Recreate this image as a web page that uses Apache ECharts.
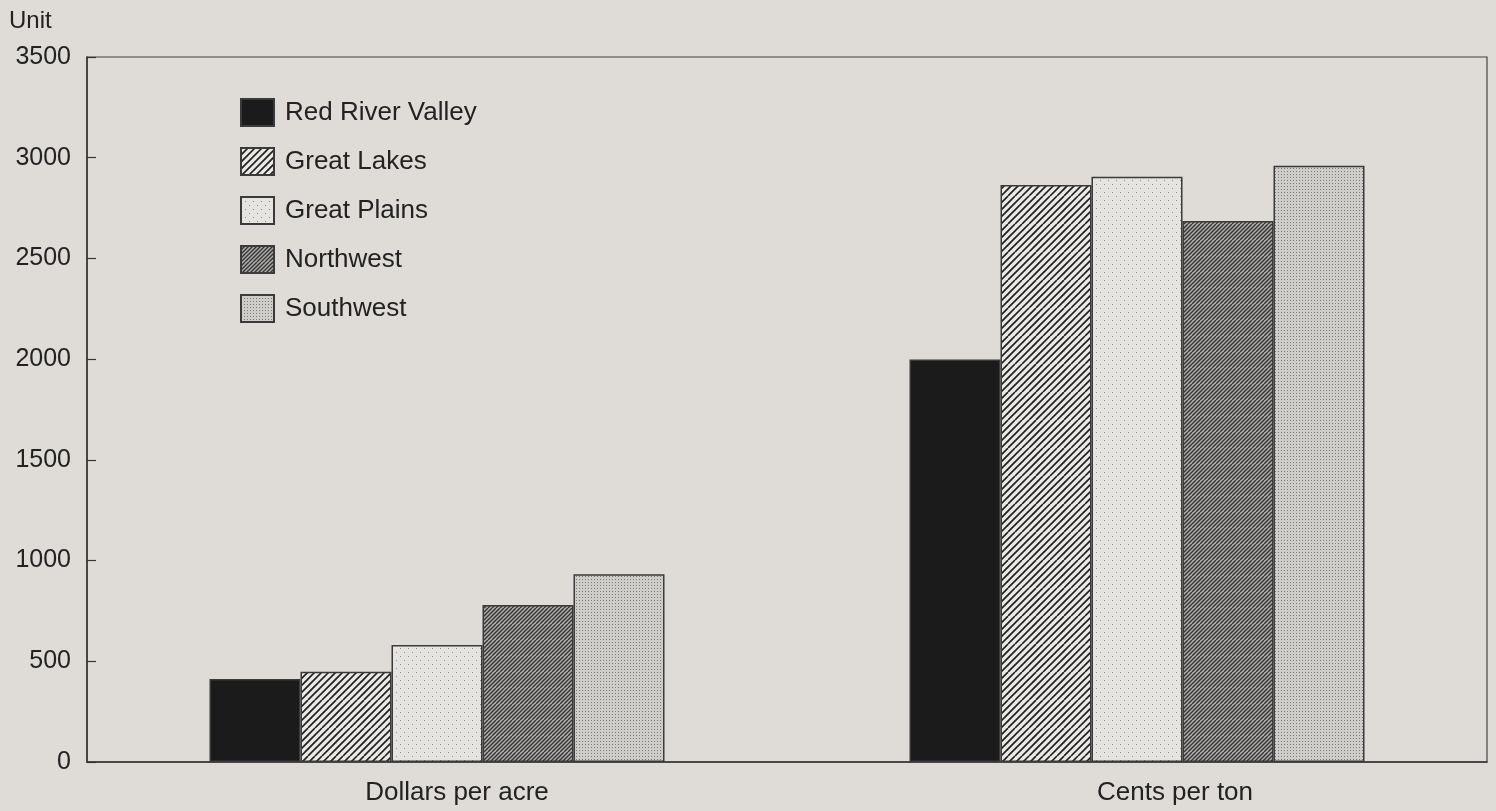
<!DOCTYPE html>
<html>
<head>
<meta charset="utf-8">
<script src="https://cdn.jsdelivr.net/npm/echarts@6/dist/echarts.min.js"></script>
<style>
html,body{margin:0;padding:0;background:#dfdbd7;}
#c{width:1496px;height:811px;}
</style>
</head>
<body>
<div id="c"></div>
<script>
var categories = ['Dollars per acre', 'Cents per ton'];
var seriesNames = ['Red River Valley', 'Great Lakes', 'Great Plains', 'Northwest', 'Southwest'];
var redRiverValley = [412, 1998];
var greatLakes = [448, 2865];
var greatPlains = [581, 2905];
var northwest = [780, 2686];
var southwest = [932, 2960];
var yTicks = [0, 500, 1000, 1500, 2000, 2500, 3000, 3500];

function hatch(bg, fg, spacing, lw) {
  var s = spacing * 4;
  var c = document.createElement('canvas');
  c.width = s; c.height = s;
  var g = c.getContext('2d');
  g.fillStyle = bg; g.fillRect(0, 0, s, s);
  g.strokeStyle = fg; g.lineWidth = lw;
  for (var k = -s; k <= 2 * s; k += spacing) {
    g.beginPath();
    g.moveTo(k, s);
    g.lineTo(k + s, 0);
    g.stroke();
  }
  return c;
}
function dots(bg, fg, step, size, offset) {
  var s = step * 2;
  var c = document.createElement('canvas');
  c.width = s; c.height = s;
  var g = c.getContext('2d');
  g.fillStyle = bg; g.fillRect(0, 0, s, s);
  g.fillStyle = fg;
  g.fillRect(0, 0, size, size);
  g.fillRect(step, step, size, size);
  if (offset) {
    g.fillRect(step, 0, size, size);
    g.fillRect(0, step, size, size);
  }
  return c;
}

var fills = [
  '#1c1b1b',
  {image: hatch('#ebe9e6', '#1e1e1e', 7, 1.6), repeat: 'repeat'},
  {image: dots('#e6e4e1', '#8e8c8a', 4, 1, false), repeat: 'repeat'},
  {image: hatch('#aeacaa', '#333333', 4, 1.3), repeat: 'repeat'},
  {image: dots('#cfcdca', '#7c7a78', 3, 1, true), repeat: 'repeat'}
];
var values = [redRiverValley, greatLakes, greatPlains, northwest, southwest];

var chart = echarts.init(document.getElementById('c'));
var font = 'Liberation Sans, Arial, Helvetica, sans-serif';
var series = seriesNames.map(function (n, i) {
  return {
    name: n,
    type: 'bar',
    data: values[i],
    barWidth: 91,
    barGap: '0%',
    itemStyle: {color: fills[i], borderColor: '#3a3a3a', borderWidth: 1.5},
    emphasis: {disabled: true}
  };
});

chart.setOption({
  backgroundColor: '#dfdbd7',
  animation: false,
  title: {text: 'Unit', left: 4, top: 4, textStyle: {fontFamily: font, fontSize: 24, fontWeight: 'normal', color: '#222'}},
  legend: {
    orient: 'vertical',
    left: 235, top: 93,
    itemWidth: 33, itemHeight: 27,
    itemGap: 20,
    icon: 'rect',
    textStyle: {fontFamily: font, fontSize: 26, color: '#222', padding: [0, 0, 0, 6]},
    data: seriesNames
  },
  grid: {left: 87, right: 9, top: 57, bottom: 49, show: true, borderColor: '#444', borderWidth: 1.2, backgroundColor: 'transparent'},
  xAxis: {
    type: 'category',
    data: categories,
    axisLine: {lineStyle: {color: '#333', width: 1.5}},
    axisTick: {show: false},
    axisLabel: {
      fontFamily: font, fontSize: 26, color: '#222', margin: 18,
      formatter: function (v, i) { return i === 0 ? '{a|' + v + '}' : '{b|' + v + '}'; },
      rich: {
        a: {fontFamily: font, fontSize: 26, color: '#222', padding: [0, 0, 0, 40]},
        b: {fontFamily: font, fontSize: 26, color: '#222', padding: [0, 0, 0, 76]}
      }
    }
  },
  yAxis: {
    type: 'value',
    min: yTicks[0], max: yTicks[yTicks.length - 1], interval: 500,
    axisLine: {show: true, lineStyle: {color: '#333', width: 1.5}},
    axisTick: {show: true, inside: true, length: 9, lineStyle: {color: '#333', width: 1.2}},
    splitLine: {show: false},
    axisLabel: {fontFamily: font, fontSize: 25, color: '#222', margin: 16, formatter: function (v) { return String(v); }}
  },
  series: series
});
</script>
</body>
</html>
